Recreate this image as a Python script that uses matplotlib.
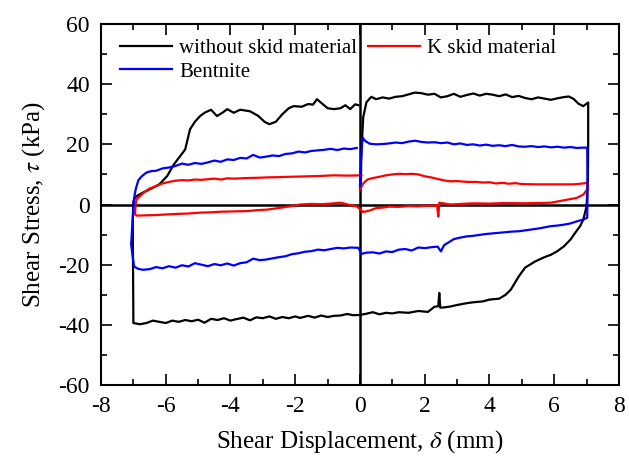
import matplotlib
matplotlib.use("Agg")
import matplotlib.pyplot as plt
from matplotlib.ticker import MultipleLocator

plt.rcParams['font.family'] = ['Liberation Serif', 'DejaVu Serif']
plt.rcParams['mathtext.fontset'] = 'stix'
plt.rcParams['axes.unicode_minus'] = False

# --- data (displacement mm, stress kPa) ---
# without skid material: upper right -> drop at +7 -> lower path -> rise at -7 -> upper left
black_x = [0.02, 0.05, 0.1, 0.2, 0.35, 0.5, 0.7, 0.9, 1.1, 1.3, 1.5, 1.7, 1.9, 2.1, 2.3,
           2.5, 2.7, 2.9, 3.1, 3.3, 3.5, 3.7, 3.9, 4.1, 4.3, 4.5, 4.7, 4.9, 5.1, 5.3,
           5.5, 5.7, 5.9, 6.1, 6.3, 6.45, 6.6, 6.75, 6.9, 7.05,
           7.05, 7.04, 7.0, 6.9, 6.8, 6.65, 6.5, 6.3, 6.1, 5.9, 5.7, 5.4, 5.1, 4.9,
           4.66, 4.5, 4.3, 4.0, 3.8, 3.5, 3.3, 3.0, 2.8, 2.6, 2.48, 2.45, 2.42, 2.3,
           2.1, 1.8, 1.5, 1.2, 1.0, 0.8, 0.6, 0.4, 0.2, 0.0, -0.2, -0.4, -0.6, -0.8,
           -1.0, -1.2, -1.4, -1.6, -1.85, -2.0, -2.2, -2.4, -2.6, -2.8, -3.0, -3.2,
           -3.4, -3.6, -3.9, -4.0, -4.2, -4.4, -4.6, -4.8, -5.0, -5.2, -5.4, -5.6,
           -5.8, -6.0, -6.2, -6.4, -6.6, -6.8, -7.0,
           -7.02, -7.0, -6.95, -6.9, -6.7, -6.5, -6.2, -5.96, -5.75, -5.56, -5.4,
           -5.25, -5.1, -4.94, -4.8, -4.6, -4.42, -4.25, -4.1, -3.9, -3.7, -3.4,
           -3.15, -2.95, -2.8, -2.6, -2.4, -2.2, -2.05, -1.8, -1.6, -1.45, -1.33,
           -1.2, -1.0, -0.8, -0.6, -0.45, -0.3, -0.15, -0.05]
black_y = [5, 19, 29, 34, 35.8, 35.0, 35.6, 35.2, 35.8, 36.0, 36.6, 37.2, 37.0, 36.5, 36.8,
           35.6, 36.0, 36.8, 35.8, 36.4, 36.9, 36.2, 36.8, 36.5, 36.0, 36.6, 35.7, 36.1, 35.4, 35.0,
           35.6, 35.2, 34.8, 35.3, 35.7, 35.9, 35.1, 33.5, 32.7, 33.9,
           20, 8.3, -0.6, -5, -7.2, -9.4, -11.7, -13.9, -15.5, -16.7, -17.5, -19, -21, -24,
           -28.3, -30, -31.3, -31.6, -32.2, -32.5, -32.8, -33.4, -33.9, -34.2, -34.3, -29.4, -33.8, -34.0,
           -35.7, -35.4, -36.0, -35.8, -36.2, -36.0, -36.5, -35.8, -36.3, -36.7, -36.8, -36.4, -36.9, -37.0,
           -37.4, -36.9, -37.6, -37.0, -37.7, -37.2, -37.8, -37.4, -38.0, -37.2, -37.8, -37.5,
           -38.5, -37.6, -38.3, -38.6, -37.8, -38.4, -38.0, -39.3, -38.3, -38.8, -38.4, -39.0,
           -38.6, -39.4, -39.0, -38.6, -39.4, -39.8, -39.4,
           -5, 1, 2.2, 2.8, 4.0, 5.0, 6.7, 9.4, 13.3, 16, 18.3,
           25, 27.5, 29.4, 30.5, 31.5, 29.4, 30.5, 31.7, 30.5, 31.5, 31.0,
           29.5, 27.5, 26.7, 27.5, 30.0, 32.0, 32.7, 32.5, 33.4, 33.2, 35.0,
           33.8, 32.0, 31.7, 32.0, 33.0, 31.7, 33.3, 33.0]

# K skid material
red_x = [0.0, 0.1, 0.23, 0.4, 0.6, 0.8, 1.0, 1.2, 1.4, 1.6, 1.8, 2.0, 2.2, 2.4, 2.6,
         2.8, 3.0, 3.2, 3.4, 3.6, 3.8, 4.0, 4.2, 4.4, 4.6, 4.8, 5.0, 5.4, 5.8, 6.2,
         6.6, 6.9, 7.0, 7.05,
         7.02, 6.9, 6.7, 6.4, 6.1, 5.9, 5.5, 5.0, 4.5, 4.0, 3.5, 3.3, 2.8, 2.45,
         2.42, 2.38, 2.1, 1.78, 1.5, 1.2, 0.9, 0.73, 0.5, 0.3, 0.1, -0.1, -0.3,
         -0.6, -0.9, -1.2, -1.5, -1.85, -2.1, -2.4, -2.87, -3.2, -3.5, -3.9, -4.3,
         -4.6, -4.94, -5.3, -5.6, -5.96, -6.3, -6.6, -6.9,
         -6.95, -6.93, -6.9, -6.8, -6.65, -6.5, -6.3, -6.1, -5.9, -5.7, -5.5, -5.3,
         -5.1, -4.9, -4.7, -4.5, -4.3, -4.1, -3.9, -3.5, -3.1, -2.9, -2.5, -2.2,
         -1.85, -1.5, -1.2, -0.8, -0.4, 0.05]
red_y = [5, 7.0, 8.3, 8.8, 9.2, 9.7, 10.0, 10.2, 10.1, 10.2, 10.0, 9.4, 9.0, 8.5, 8.0,
         7.7, 7.8, 7.6, 7.5, 7.5, 7.3, 7.4, 7.0, 7.2, 6.9, 7.1, 6.8, 6.7, 6.7, 6.7,
         6.7, 7.0, 7.2, 6.1,
         5.0, 3.3, 2.2, 1.6, 1.0, 0.6, 0.5, 0.4, 0.5, 0.3, 0.4, 0.3, 0.0, 0.6,
         -4.0, -0.3, -0.4, -0.6, -0.5, -0.8, -0.7, -1.0, -1.2, -2.0, -2.5, -0.6, -0.2,
         0.6, 0.3, 0.1, 0.2, 0.0, -0.5, -1.0, -1.7, -1.9, -2.2, -2.3, -2.4,
         -2.6, -2.7, -3.0, -3.1, -3.3, -3.5, -3.6, -3.7,
         -3.3, 0.0, 1.7, 2.8, 4.2, 5.3, 6.1, 7.0, 7.5, 7.9, 8.1, 8.0,
         8.3, 8.2, 8.4, 8.6, 8.3, 8.7, 8.6, 8.8, 8.9, 9.0, 9.1, 9.2,
         9.3, 9.4, 9.5, 9.7, 9.6, 9.7]

# Bentnite
blue_x = [0.0, 0.03, 0.08, 0.15, 0.3, 0.5, 0.7, 0.9, 1.1, 1.3, 1.5, 1.7, 1.9, 2.1, 2.3,
          2.5, 2.7, 2.9, 3.1, 3.3, 3.5, 3.7, 3.9, 4.1, 4.3, 4.5, 4.7, 4.9, 5.1, 5.3,
          5.5, 5.7, 5.9, 6.1, 6.3, 6.5, 6.7, 6.9, 7.02,
          7.03, 7.02, 6.9, 6.7, 6.5, 6.3, 6.1, 5.9, 5.7, 5.5, 5.3, 5.1, 4.9, 4.7,
          4.5, 4.3, 4.1, 3.9, 3.7, 3.5, 3.3, 3.1, 2.9, 2.75, 2.6, 2.5, 2.4, 2.2, 2.0,
          1.8, 1.6, 1.4, 1.2, 1.0, 0.8, 0.6, 0.4, 0.2, 0.05, -0.05, -0.3, -0.5, -0.7,
          -0.9, -1.1, -1.3, -1.5, -1.7, -1.9, -2.1, -2.3, -2.5, -2.7, -2.9, -3.1,
          -3.3, -3.5, -3.7, -3.9, -4.1, -4.3, -4.5, -4.7, -4.9, -5.1, -5.3, -5.5,
          -5.7, -5.9, -6.1, -6.3, -6.5, -6.7, -6.85, -6.98, -7.07,
          -7.02, -6.98, -6.93, -6.85, -6.75, -6.6, -6.45, -6.3, -6.1, -5.9, -5.7,
          -5.5, -5.3, -5.1, -4.9, -4.7, -4.5, -4.3, -4.1, -3.9, -3.7, -3.5, -3.3,
          -3.1, -2.9, -2.7, -2.5, -2.3, -2.1, -1.9, -1.7, -1.5, -1.3, -1.1, -0.9,
          -0.7, -0.5, -0.3, -0.1]
blue_y = [6, 15, 22.3, 21.2, 20.2, 20.0, 20.1, 20.3, 20.6, 20.4, 20.9, 21.2, 20.8, 20.6, 20.7,
          20.4, 20.6, 20.0, 20.3, 19.8, 20.0, 19.6, 19.9, 19.5, 19.7, 19.4, 19.8, 19.3, 19.2, 19.4,
          19.1, 19.3, 19.0, 19.2, 18.9, 19.1, 18.8, 18.9, 18.9,
          5, -4.4, -5.0, -5.6, -6.3, -6.7, -7.0, -7.2, -7.6, -8.0, -8.3, -8.6, -8.9, -9.0,
          -9.2, -9.4, -9.6, -9.8, -10.1, -10.4, -10.6, -11.0, -11.5, -12.5, -13.5, -15.6, -14.0, -14.2, -14.5,
          -14.3, -15.3, -14.8, -15.0, -15.8, -15.6, -16.3, -15.9, -16.0, -16.4, -14.4, -14.3, -14.6, -14.4,
          -14.8, -15.2, -15.0, -15.5, -15.7, -16.2, -16.5, -17.2, -17.5, -17.9, -18.3, -18.5,
          -18.0, -19.2, -19.5, -20.3, -19.6, -20.2, -19.8, -20.5, -20.0, -19.5, -20.6, -20.2,
          -21.0, -20.5, -21.2, -20.8, -21.5, -21.7, -21.4, -20.6, -13.3,
          -5, 2, 5, 8, 9.3, 10.6, 11.1, 11.2, 12.0, 12.3, 12.8,
          13.6, 13.2, 13.8, 13.5, 14.0, 14.6, 14.2, 15.0, 14.8, 15.5, 15.3, 16.5,
          15.6, 15.9, 16.3, 16.1, 16.8, 17.0, 17.6, 17.3, 17.8, 18.0, 18.2, 18.5,
          18.1, 18.6, 18.4, 18.8]

x_ticks = [-8, -6, -4, -2, 0, 2, 4, 6, 8]
y_ticks = [-60, -40, -20, 0, 20, 40, 60]

fig = plt.figure(figsize=(6.29, 4.66), dpi=100)
ax = fig.add_axes([0.1606, 0.1738, 0.8234, 0.7747])

l_black, = ax.plot(black_x, black_y, color='black', lw=1.6, label='without skid material')
l_red, = ax.plot(red_x, red_y, color='red', lw=1.6, label='K skid material')
l_blue, = ax.plot(blue_x, blue_y, color='blue', lw=1.6, label='Bentnite')

ax.axhline(0, color='black', lw=1.8, zorder=1)
ax.axvline(0, color='black', lw=1.8, zorder=1)

ax.set_xlim(-8, 8)
ax.set_ylim(-60, 60)
ax.set_xticks(x_ticks)
ax.set_yticks(y_ticks)
ax.xaxis.set_minor_locator(MultipleLocator(1))
ax.yaxis.set_minor_locator(MultipleLocator(10))
ax.tick_params(which='both', direction='in', top=True, right=True, width=1.2)
ax.tick_params(which='major', length=8, labelsize=17, pad=8)
ax.tick_params(which='minor', length=4)
for s in ax.spines.values():
    s.set_linewidth(1.5)

ax.set_xlabel(r'Shear Displacement, $\delta$ (mm)', fontsize=18, labelpad=8)
ax.set_ylabel(r'Shear Stress, $\tau$ (kPa)', fontsize=18, labelpad=8)

ax.legend(handles=[l_black, l_blue, l_red], ncol=2, loc='upper left',
          bbox_to_anchor=(0.0, 1.012), frameon=False,
          fontsize=15, handlelength=2.5, handletextpad=0.35, columnspacing=0.5,
          labelspacing=0.2, borderaxespad=0.2, borderpad=0.7)

fig.savefig('out.png', dpi=100)
